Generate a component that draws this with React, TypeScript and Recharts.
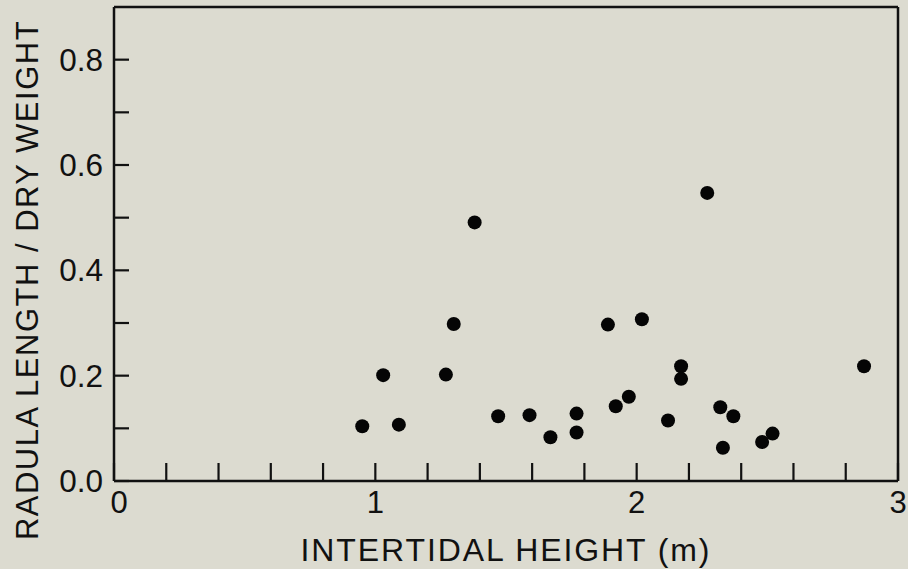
import { ScatterChart, Scatter, XAxis, YAxis, ReferenceLine, Label } from "recharts";

// intertidal height (m) and radula length / dry weight
const heights = [
  0.95, 1.03, 1.09, 1.27, 1.3, 1.38, 1.47, 1.59, 1.67, 1.77, 1.77, 1.89, 1.92,
  1.97, 2.02, 2.12, 2.17, 2.17, 2.27, 2.32, 2.33, 2.37, 2.48, 2.52, 2.87,
];
const ratios = [
  0.104, 0.201, 0.107, 0.202, 0.298, 0.491, 0.123, 0.125, 0.083, 0.092, 0.128, 0.297, 0.142,
  0.16, 0.307, 0.115, 0.218, 0.194, 0.547, 0.14, 0.063, 0.123, 0.074, 0.09, 0.218,
];

const xTicks = [0, 0.2, 0.4, 0.6, 0.8, 1, 1.2, 1.4, 1.6, 1.8, 2, 2.2, 2.4, 2.6, 2.8, 3];
const xLabels = [0, 1, 2, 3];
const yTicks = [0, 0.1, 0.2, 0.3, 0.4, 0.5, 0.6, 0.7, 0.8];
const yLabels = ["0.0", "", "0.2", "", "0.4", "", "0.6", "", "0.8"];

const points = heights.map((h, i) => ({ height: h, ratio: ratios[i] }));

const FONT = '"Liberation Sans", Arial, Helvetica, sans-serif';
const INK = "#111";

const XTick = (props: any) => {
  const { x, y, payload } = props;
  const show = xLabels.includes(payload.value);
  // the "0" label sits a little right of its tick in the original
  const shift = payload.value === 0 ? 5 : 0;
  return (
    <g>
      <line x1={x} y1={y} x2={x} y2={y - 18} stroke={INK} strokeWidth={2.2} />
      {show && (
        <text x={x + shift} y={y + 32} textAnchor="middle" fontSize={31} fontFamily={FONT} fill={INK}>
          {payload.value}
        </text>
      )}
    </g>
  );
};

const YTick = (props: any) => {
  const { x, y, index } = props;
  const label = yLabels[index];
  return (
    <g>
      <line x1={x} y1={y} x2={x + 15} y2={y} stroke={INK} strokeWidth={2.2} />
      {label && (
        <text x={x - 11} y={y + 11} textAnchor="end" fontSize={31.5} fontFamily={FONT} fill={INK}>
          {label}
        </text>
      )}
    </g>
  );
};

const YTitle = (props: any) => {
  const { viewBox } = props;
  const cx = 27;
  const cy = viewBox.y + viewBox.height / 2 + 36;
  return (
    <text
      x={cx}
      y={cy}
      transform={`rotate(-90 ${cx} ${cy})`}
      textAnchor="middle"
      dominantBaseline="central"
      fontSize={31}
      letterSpacing={1.5}
      fontFamily={FONT}
      fill={INK}
    >
      RADULA LENGTH / DRY WEIGHT
    </text>
  );
};

export default function App() {
  return (
    <div style={{ position: "absolute", left: 0, top: 0, width: 908, height: 569, background: "#dcdbd0" }}>
      <ScatterChart width={908} height={569} margin={{ top: 7, right: 10, bottom: 0, left: 0 }}>
        <XAxis
          type="number"
          dataKey="height"
          domain={[0, 3]}
          ticks={xTicks}
          interval={0}
          height={88}
          tickSize={0}
          tickMargin={0}
          tickLine={false}
          tick={<XTick />}
          axisLine={{ stroke: INK, strokeWidth: 2.5 }}
        >
          <Label
            value="INTERTIDAL HEIGHT (m)"
            position="insideBottom"
            offset={8}
            style={{ fontSize: 32, fontFamily: FONT, fill: INK, letterSpacing: 1.9 }}
          />
        </XAxis>
        <YAxis
          type="number"
          dataKey="ratio"
          domain={[0, 0.9]}
          ticks={yTicks}
          interval={0}
          width={114}
          tickSize={0}
          tickMargin={0}
          tickLine={false}
          tick={<YTick />}
          axisLine={{ stroke: INK, strokeWidth: 2.5 }}
        >
          <Label content={<YTitle />} />
        </YAxis>
        <ReferenceLine y={0.9} stroke={INK} strokeWidth={2.5} />
        <ReferenceLine x={3} stroke={INK} strokeWidth={2.5} />
        <Scatter
          data={points}
          isAnimationActive={false}
          shape={(p: any) => <circle cx={p.cx} cy={p.cy} r={7} fill="#050505" />}
        />
      </ScatterChart>
    </div>
  );
}
